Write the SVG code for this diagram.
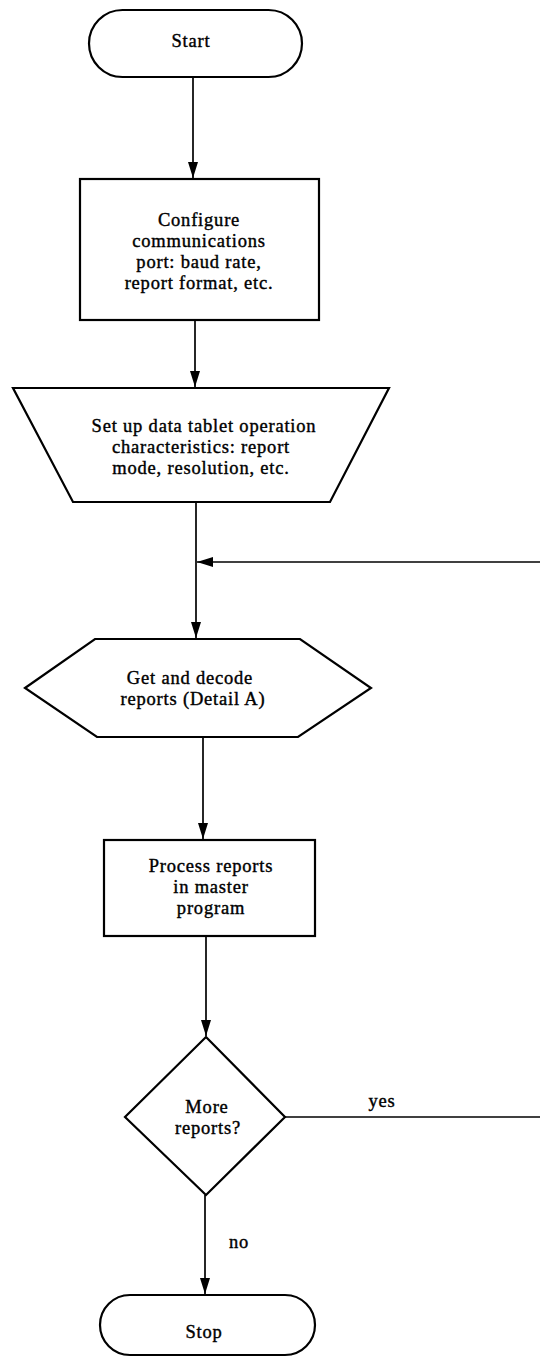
<svg xmlns="http://www.w3.org/2000/svg" width="540" height="1357" viewBox="0 0 540 1357">
<style>
.shape{fill:#fff;stroke:#000;stroke-width:2.2}
.conn{fill:none;stroke:#000;stroke-width:1.7}
.t{font-family:"Liberation Serif","Times New Roman",serif;font-size:18.5px;letter-spacing:0.8px;fill:#000;stroke:#000;stroke-width:0.4;text-anchor:middle}
</style>
<defs>
<marker id="ah" markerUnits="userSpaceOnUse" markerWidth="17" markerHeight="11" viewBox="-17 -5.5 17 11" refX="0" refY="0" orient="auto">
<path d="M0,0 L-16,-5 L-16,5 Z" fill="#000"/>
</marker>
</defs>
<rect width="540" height="1357" fill="#fff"/>
<g id="connectors">
<line class="conn" x1="193" y1="77" x2="193" y2="178" marker-end="url(#ah)"/>
<line class="conn" x1="195" y1="320" x2="195" y2="387" marker-end="url(#ah)"/>
<line class="conn" x1="196" y1="502" x2="196" y2="638" marker-end="url(#ah)"/>
<line class="conn" x1="540" y1="562" x2="197" y2="562" marker-end="url(#ah)"/>
<line class="conn" x1="203" y1="737" x2="203" y2="839" marker-end="url(#ah)"/>
<line class="conn" x1="206" y1="936" x2="206" y2="1036" marker-end="url(#ah)"/>
<line class="conn" x1="285" y1="1117" x2="540" y2="1117"/>
<line class="conn" x1="205" y1="1195" x2="205" y2="1294" marker-end="url(#ah)"/>
<text class="t" x="382" y="1107">yes</text>
<text class="t" x="239" y="1248">no</text>
</g>
<g id="start">
<rect class="shape" x="89" y="10" width="213" height="67" rx="33.5"/>
<text class="t" x="191" y="47">Start</text>
</g>
<g id="configure">
<rect class="shape" x="80" y="179" width="239" height="141"/>
<text class="t" x="199" y="226">Configure</text>
<text class="t" x="199" y="247">communications</text>
<text class="t" x="199" y="268">port: baud rate,</text>
<text class="t" x="199" y="289">report format, etc.</text>
</g>
<g id="setup">
<polygon class="shape" points="13,388 389,388 330,502 73,502"/>
<text class="t" x="204" y="432">Set up data tablet operation</text>
<text class="t" x="201" y="453">characteristics: report</text>
<text class="t" x="201" y="474">mode, resolution, etc.</text>
</g>
<g id="getdecode">
<polygon class="shape" points="25,688 95,639 300,639 371,688 298,737 97,737"/>
<text class="t" x="190" y="684">Get and decode</text>
<text class="t" x="193" y="705">reports (Detail A)</text>
</g>
<g id="process">
<rect class="shape" x="104" y="840" width="211" height="96"/>
<text class="t" x="211" y="872">Process reports</text>
<text class="t" x="211" y="893">in master</text>
<text class="t" x="211" y="914">program</text>
</g>
<g id="decision">
<polygon class="shape" points="206,1037 285,1117 206,1195 125,1117"/>
<text class="t" x="207" y="1113">More</text>
<text class="t" x="208" y="1134">reports?</text>
</g>
<g id="stop">
<rect class="shape" x="100" y="1295" width="215" height="60" rx="30"/>
<text class="t" x="204" y="1338">Stop</text>
</g>
</svg>
